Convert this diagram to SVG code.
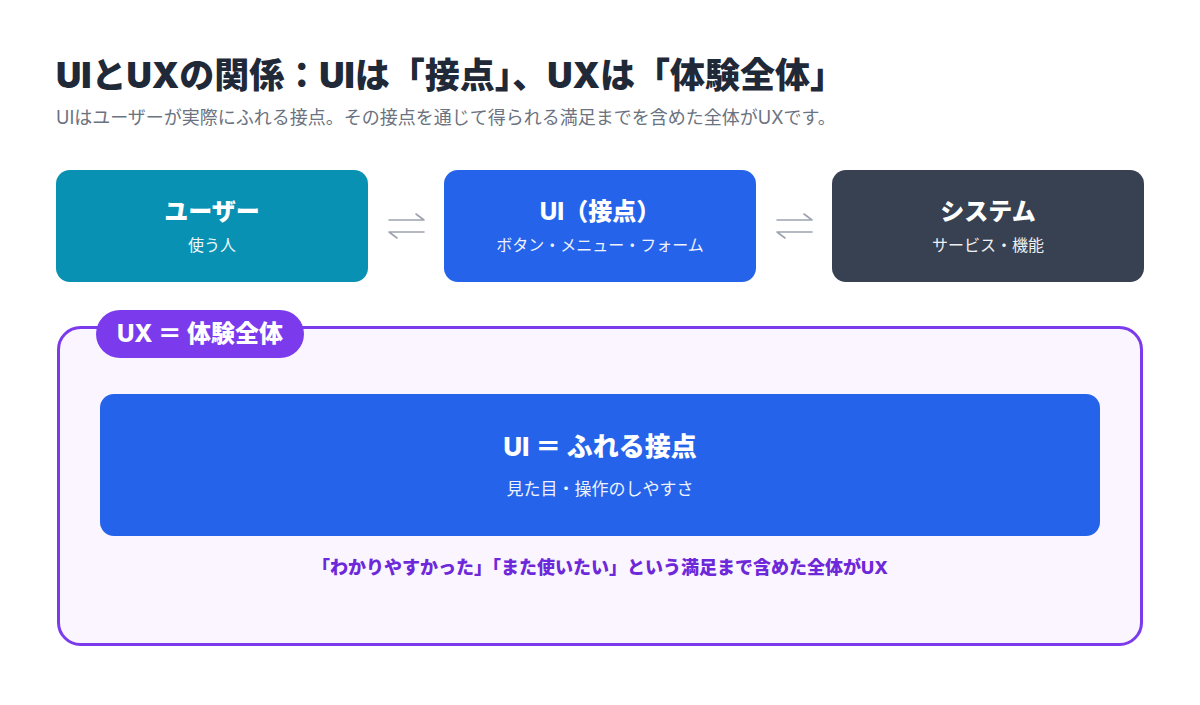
<svg xmlns="http://www.w3.org/2000/svg" width="1200" height="705" viewBox="0 0 1200 705">
<style>
.jp{font-family:"Inter","Noto Sans CJK JP","Noto Sans",sans-serif;}
.t{font-weight:800;fill:#fff;text-anchor:middle;}
.s{fill:#fff;text-anchor:middle;font-size:16px;opacity:0.92;}
.arr{fill:none;stroke:#9ca3af;stroke-width:1.6;stroke-linecap:round;stroke-linejoin:round;}
</style>
<rect width="1200" height="705" fill="#ffffff"/>
<g id="title">
<text class="jp" x="56" y="88" font-size="35" font-weight="900" fill="#1f2937">UIとUXの関係：UIは「接点」、UXは「体験全体」</text>
<text class="jp" x="56" y="124" font-size="18" fill="#6b7280">UIはユーザーが実際にふれる接点。その接点を通じて得られる満足までを含めた全体がUXです。</text>
</g>
<g id="user">
<rect x="56" y="170" width="312" height="112" rx="14" fill="#0891b2"/>
<text class="jp t" x="212" y="220" font-size="24">ユーザー</text>
<text class="jp s" x="212" y="251">使う人</text>
</g>
<g id="ui">
<rect x="444" y="170" width="312" height="112" rx="14" fill="#2563eb"/>
<text class="jp t" x="600" y="220" font-size="24">UI（接点）</text>
<text class="jp s" x="600" y="251">ボタン・メニュー・フォーム</text>
</g>
<g id="system">
<rect x="832" y="170" width="312" height="112" rx="14" fill="#374151"/>
<text class="jp t" x="988" y="220" font-size="24">システム</text>
<text class="jp s" x="988" y="251">サービス・機能</text>
</g>
<g id="connectors">
<path class="arr" d="M389 220 H424 L416 214 M389 232 H424 M389 232 L397 238"/>
<path class="arr" d="M777 220 H812 L804 214 M777 232 H812 M777 232 L785 238"/>
</g>
<g id="ux">
<rect x="58.5" y="327.5" width="1083" height="317" rx="22" fill="#faf5ff" stroke="#7c3aed" stroke-width="3"/>
<rect x="96" y="310" width="208" height="48" rx="24" fill="#7c3aed"/>
<text class="jp t" x="200" y="342" font-size="24">UX ＝ 体験全体</text>
</g>
<g id="ui-inner">
<rect x="100" y="394" width="1000" height="142" rx="14" fill="#2563eb"/>
<text class="jp t" x="600" y="456" font-size="26">UI ＝ ふれる接点</text>
<text class="jp s" x="600" y="495" style="font-size:17px">見た目・操作のしやすさ</text>
</g>
<g id="note">
<text class="jp" x="600" y="574" font-size="18" font-weight="800" fill="#6d28d9" text-anchor="middle">「わかりやすかった」「また使いたい」という満足まで含めた全体がUX</text>
</g>
</svg>
